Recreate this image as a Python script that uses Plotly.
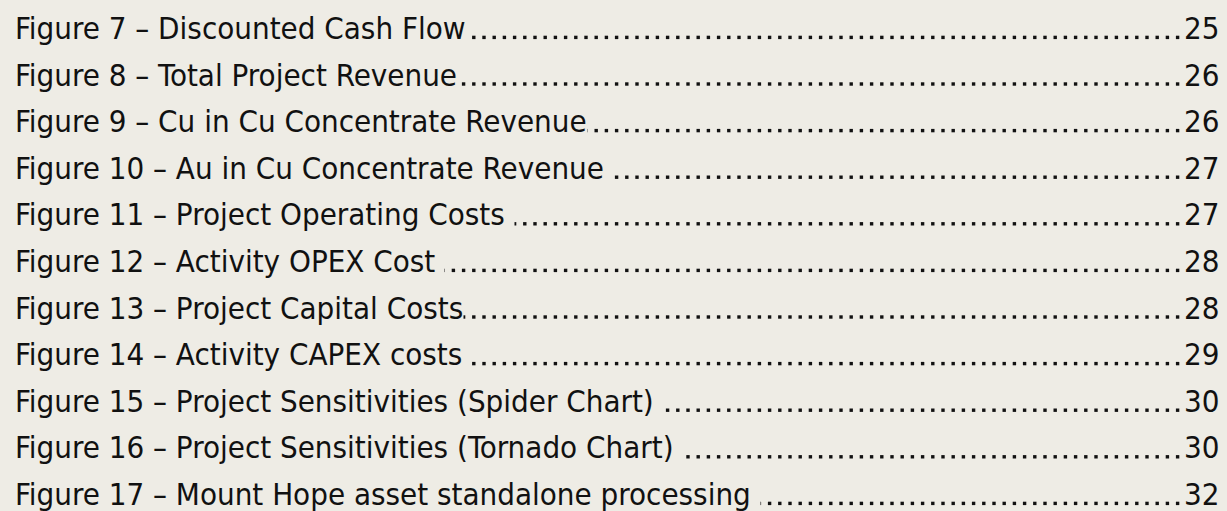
import numpy as np
import plotly.graph_objects as go

# ---- data ----
titles = [
    "Figure 7 – Discounted Cash Flow",
    "Figure 8 – Total Project Revenue",
    "Figure 9 – Cu in Cu Concentrate Revenue",
    "Figure 10 – Au in Cu Concentrate Revenue\u00a0",
    "Figure 11 – Project Operating Costs\u00a0",
    "Figure 12 – Activity OPEX Cost\u00a0",
    "Figure 13 – Project Capital Costs",
    "Figure 14 – Activity CAPEX costs\u00a0",
    "Figure 15 – Project Sensitivities (Spider Chart)\u00a0",
    "Figure 16 – Project Sensitivities (Tornado Chart)\u00a0",
    "Figure 17 – Mount Hope asset standalone processing\u00a0",
]
pages = ["25", "26", "26", "27", "27", "28", "28", "29", "30", "30", "32"]

# ---- layout constants ----
W, H = 1227, 511
BG = "#EEECE5"
FONT = "DejaVu Sans Condensed, Tahoma, sans-serif"
FS = 31
first_baseline, row_step = 39.0, 46.6
baselines = [first_baseline + i * row_step for i in range(len(titles))]

fig = go.Figure()

# leader dots on a fixed grid across each row (covered by text boxes)
dot_x = np.arange(25.0, 1190.0, 10.2)
xs, ys = [], []
for b in baselines:
    xs.extend(dot_x.tolist())
    ys.extend([b - 1.6] * len(dot_x))
    xs.append(None)
    ys.append(None)
fig.add_trace(go.Scatter(
    x=xs, y=ys, mode="markers",
    marker=dict(symbol="square", size=3.4, color="#111111", line=dict(width=0)),
    hoverinfo="skip", showlegend=False,
))

for t, p, b in zip(titles, pages, baselines):
    fig.add_annotation(
        x=14, y=b - 11, xref="x", yref="y", text=t, showarrow=False,
        xanchor="left", yanchor="middle", bgcolor=BG, borderpad=0,
        font=dict(family=FONT, size=FS, color="#111111"),
    )
    fig.add_annotation(
        x=1222, y=b - 11, xref="x", yref="y", text=p, showarrow=False,
        xanchor="right", yanchor="middle", bgcolor=BG, borderpad=2,
        font=dict(family=FONT, size=FS, color="#111111"),
    )

fig.update_layout(
    width=W, height=H, margin=dict(l=0, r=0, t=0, b=0),
    paper_bgcolor=BG, plot_bgcolor=BG,
    xaxis=dict(range=[0, W], visible=False, fixedrange=True),
    yaxis=dict(range=[H, 0], visible=False, fixedrange=True),
)
fig.write_html(
    "out.html",
    config={"displayModeBar": False},
    post_script="document.body.style.margin='0';document.body.style.overflow='hidden';",
)
